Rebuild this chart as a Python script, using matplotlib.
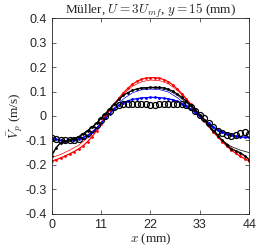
import matplotlib
matplotlib.use("Agg")
import matplotlib.pyplot as plt

plt.rcParams['mathtext.fontset'] = 'cm'
plt.rcParams['font.family'] = ['Liberation Sans', 'DejaVu Sans']

# simulations with markers, 1 mm steps
x_fine = list(range(0, 45))
red_thick = [-0.185, -0.179, -0.172, -0.164, -0.155, -0.146, -0.135, -0.122, -0.105, -0.085, -0.06,
             -0.031, 0.0, 0.026, 0.05, 0.074, 0.095, 0.114, 0.13, 0.142, 0.15, 0.155, 0.157, 0.157,
             0.155, 0.149, 0.14, 0.127, 0.11, 0.091, 0.07, 0.048, 0.025, 0.002, -0.02, -0.043,
             -0.065, -0.086, -0.105, -0.123, -0.14, -0.153, -0.165, -0.175, -0.185]
blue_thick = [-0.09, -0.096, -0.1, -0.101, -0.1, -0.098, -0.095, -0.089, -0.08, -0.067, -0.05,
              -0.03, -0.01, 0.01, 0.03, 0.044, 0.055, 0.062, 0.068, 0.071, 0.074, 0.075, 0.076,
              0.076, 0.075, 0.073, 0.07, 0.066, 0.06, 0.051, 0.04, 0.028, 0.015, 0.0, -0.015,
              -0.03, -0.045, -0.056, -0.065, -0.072, -0.078, -0.082, -0.085, -0.087, -0.088]
black_thick = [-0.165, -0.13, -0.11, -0.103, -0.1, -0.093, -0.085, -0.074, -0.06, -0.046, -0.03,
               -0.01, 0.01, 0.03, 0.05, 0.068, 0.085, 0.096, 0.105, 0.111, 0.115, 0.116, 0.117,
               0.117, 0.117, 0.115, 0.11, 0.101, 0.09, 0.076, 0.06, 0.043, 0.025, 0.005, -0.015,
               -0.038, -0.06, -0.08, -0.1, -0.118, -0.135, -0.143, -0.15, -0.163, -0.18]

# simulations without markers, 2 mm steps
x_sim = [0, 2, 4, 6, 8, 10, 12, 14, 16, 18, 20, 22, 24, 26, 28, 30, 32, 34, 36, 38, 40, 42, 44]
red_thin = [-0.17, -0.158, -0.14, -0.12, -0.09, -0.05, 0.0, 0.048, 0.09, 0.122, 0.14, 0.147,
            0.145, 0.132, 0.105, 0.068, 0.025, -0.02, -0.062, -0.1, -0.13, -0.155, -0.175]
blue_thin = [-0.09, -0.1, -0.1, -0.095, -0.078, -0.05, -0.01, 0.035, 0.07, 0.095, 0.107, 0.11,
             0.108, 0.098, 0.075, 0.045, 0.012, -0.02, -0.05, -0.07, -0.082, -0.088, -0.09]
black_thin = [-0.155, -0.108, -0.095, -0.085, -0.062, -0.03, 0.01, 0.05, 0.085, 0.105, 0.113, 0.115,
              0.113, 0.105, 0.085, 0.055, 0.02, -0.02, -0.065, -0.1, -0.125, -0.14, -0.15]

# experiment (Müller)
x_exp = list(range(0, 45))
v_exp = [-0.09, -0.095, -0.1, -0.1, -0.1, -0.098, -0.093, -0.083, -0.07, -0.055, -0.035, -0.015,
         0.0, 0.02, 0.035, 0.045, 0.05, 0.05, 0.05, 0.05, 0.05, 0.05, 0.045, 0.045, 0.05, 0.05,
         0.05, 0.05, 0.05, 0.048, 0.045, 0.035, 0.02, 0.005, -0.01, -0.03, -0.045, -0.06, -0.07,
         -0.077, -0.08, -0.078, -0.07, -0.065, -0.072]

xticks = [0, 11, 22, 33, 44]
yticks = [-0.4, -0.3, -0.2, -0.1, 0, 0.1, 0.2, 0.3, 0.4]
yticklabels = ['-0.4', '-0.3', '-0.2', '-0.1', '0', '0.1', '0.2', '0.3', '0.4']

fig = plt.figure(figsize=(2.58, 2.49), dpi=100)
ax = fig.add_axes([0.2, 0.142, 0.766, 0.7845])

ax.plot(x_sim, red_thin, color='red', lw=0.5)
ax.plot(x_sim, blue_thin, color='blue', lw=0.5)
ax.plot(x_sim, black_thin, color='black', lw=0.5)
ax.plot(x_fine, red_thick, color='red', lw=0.9, marker='.', ms=2)
ax.plot(x_fine, blue_thick, color='blue', lw=0.9, marker='.', ms=2)
ax.plot(x_fine, black_thick, color='black', lw=0.9, marker='.', ms=2)
ax.plot(x_exp, v_exp, ls='none', marker='o', ms=4.3, mfc='none', mec='black', mew=0.9)

ax.set_xlim(0, 44)
ax.set_ylim(-0.4, 0.4)
ax.set_xticks(xticks)
ax.set_yticks(yticks)
ax.set_yticklabels(yticklabels)
ax.tick_params(direction='in', top=True, right=True, labelsize=9, length=3, width=0.5, colors='#262626')
for s in ax.spines.values():
    s.set_linewidth(0.6)
    s.set_color('#262626')

serif = ['Liberation Serif', 'DejaVu Serif']
ax.set_title(r"Müller, $U=3U_{mf}$, $y=15$ (mm)", fontsize=9.5, family=serif, pad=3, color='#262626')
ax.set_xlabel(r"$x$ (mm)", fontsize=9.5, family=serif, labelpad=1, color='#262626')
ax.set_ylabel(r"$\bar{V}_p$ (m/s)", fontsize=9.5, family=serif, labelpad=0, color='#262626')

fig.savefig("out.png", dpi=100)
